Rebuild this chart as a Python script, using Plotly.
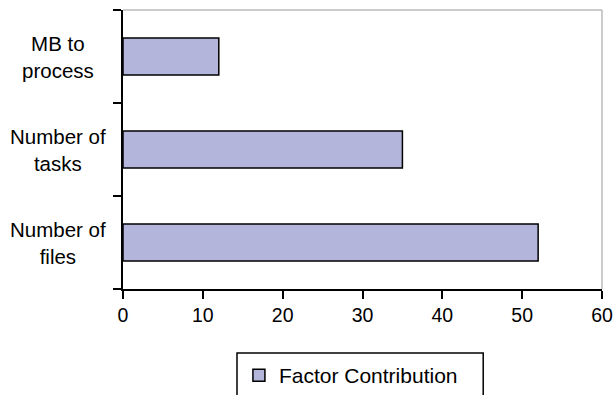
import plotly.graph_objects as go

# bottom-to-top order on the category axis
factors = ['Number of files', 'Number of tasks', 'MB to process']
factor_labels = ['Number of<br>files', 'Number of<br>tasks', 'MB to<br>process']
contribution = [52, 35, 12]
series_name = 'Factor Contribution'

FONT = dict(family='Liberation Sans, Arial, sans-serif', size=19.5, color='black')
LABEL_FONT = dict(family='Liberation Sans, Arial, sans-serif', size=20.5, color='black')
LEGEND_FONT = dict(family='Liberation Sans, Arial, sans-serif', size=21, color='black')
BAR_COLOR = '#B3B5DB'

fig = go.Figure(go.Bar(
    x=contribution, y=factors, orientation='h', name=series_name,
    marker=dict(color=BAR_COLOR, line=dict(color='black', width=1.5)),
    showlegend=True))

fig.update_layout(
    width=614, height=395,
    margin=dict(l=123, r=12, t=10, b=106, autoexpand=False),
    plot_bgcolor='white', paper_bgcolor='white',
    font=FONT,
    bargap=0.6,
    legend=dict(orientation='h', x=0.242, xanchor='left', y=-0.31, yanchor='middle',
                bgcolor='rgba(0,0,0,0)', borderwidth=0, font=LEGEND_FONT),
)

fig.update_xaxes(range=[0, 60], dtick=10, showgrid=False, zeroline=False,
                 showline=True, linecolor='black', linewidth=1.5,
                 ticks='outside', ticklen=8, tickcolor='black', tickwidth=1.5,
                 tickfont=FONT)
fig.update_yaxes(type='category', range=[-0.5, 2.5], showgrid=False, zeroline=False,
                 showline=True, linecolor='black', linewidth=1.5,
                 ticks='outside', tickson='boundaries', ticklen=8,
                 tickcolor='black', tickwidth=1.5, showticklabels=False)

# centred two-line category labels
for f, lab in zip(factors, factor_labels):
    fig.add_annotation(x=-0.136, xref='paper', y=f, yref='y', text=lab,
                       showarrow=False, xanchor='center', align='center', font=LABEL_FONT)

# grey top/right frame and legend box
fig.add_shape(type='line', xref='paper', yref='paper', x0=0, x1=1, y0=1, y1=1,
              line=dict(color='#999999', width=1))
fig.add_shape(type='line', xref='paper', yref='paper', x0=1, x1=1, y0=0, y1=1,
              line=dict(color='#999999', width=1))
fig.add_shape(type='rect', xref='paper', yref='paper', x0=0.238, x1=0.752,
              y0=-0.229, y1=-0.45, line=dict(color='black', width=1.5))

fig.write_html("out.html", config={'displayModeBar': False},
               post_script="document.body.style.margin='0';")
